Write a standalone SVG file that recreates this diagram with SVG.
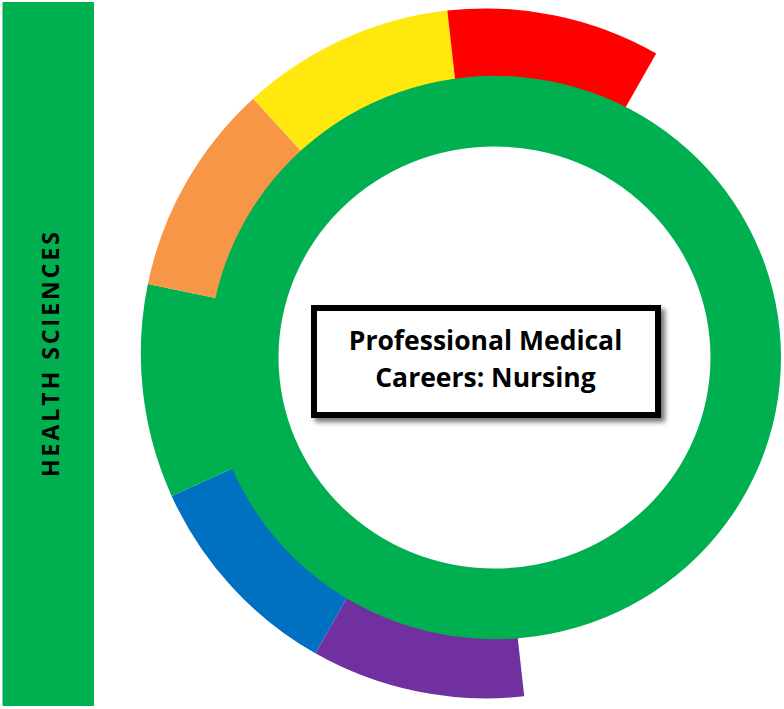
<svg xmlns="http://www.w3.org/2000/svg" width="784" height="709" viewBox="0 0 784 709">
<defs>
<style>
.lbl{font-family:"Open Sans","Liberation Sans",sans-serif;font-weight:700;fill:#000}
</style>
<filter id="sh" x="-10%" y="-20%" width="130%" height="150%">
<feDropShadow dx="4" dy="4" stdDeviation="2.5" flood-color="#000" flood-opacity="0.55"/>
</filter>
</defs>
<rect width="784" height="709" fill="#fff"/>
<g id="side-bar">
<rect x="2.5" y="2" width="91.5" height="704" fill="#00B050"/>
<text class="lbl" font-size="23" text-anchor="middle" textLength="245" lengthAdjust="spacing" transform="translate(58.8 354.5) rotate(-90)">HEALTH SCIENCES</text>
</g>
<g id="segments">
<path id="seg-purple" d="M524.26 696.25 A345 345 0 0 1 315.39 653.37 L362.31 570.77 A250 250 0 0 0 513.67 601.84 Z" fill="#7030A0"/>
<path id="seg-blue" d="M315.39 653.37 A345 345 0 0 1 171.62 495.92 L258.13 456.68 A250 250 0 0 0 362.31 570.77 Z" fill="#0070C0"/>
<path id="seg-green" d="M171.62 495.92 A345 345 0 0 1 147.84 284.03 L240.90 303.13 A250 250 0 0 0 258.13 456.68 Z" fill="#00B050"/>
<path id="seg-orange" d="M147.84 284.03 A345 345 0 0 1 253.17 98.63 L317.22 168.78 A250 250 0 0 0 240.90 303.13 Z" fill="#F79646"/>
<path id="seg-yellow" d="M253.17 98.63 A345 345 0 0 1 447.34 10.55 L457.93 104.96 A250 250 0 0 0 317.22 168.78 Z" fill="#FFE80E"/>
<path id="seg-red" d="M447.34 10.55 A345 345 0 0 1 656.21 53.43 L609.29 136.03 A250 250 0 0 0 457.93 104.96 Z" fill="#FF0000"/>
</g>
<g id="ring">
<path fill="#00B050" fill-rule="evenodd" d="M209 357.5 A286 281.7 0 1 0 781 357.5 A286 281.7 0 1 0 209 357.5 Z M278.5 357.5 A216 211 0 1 1 710.5 357.5 A216 211 0 1 1 278.5 357.5 Z"/>
</g>
<g id="center-node">
<rect x="314" y="308" width="344" height="107" fill="#fff" stroke="#000" stroke-width="6" filter="url(#sh)"/>
<text class="lbl" font-size="26.5" text-anchor="middle" x="485.5" y="350">Professional Medical</text>
<text class="lbl" font-size="26.5" text-anchor="middle" x="485.5" y="387">Careers: Nursing</text>
</g>
</svg>
